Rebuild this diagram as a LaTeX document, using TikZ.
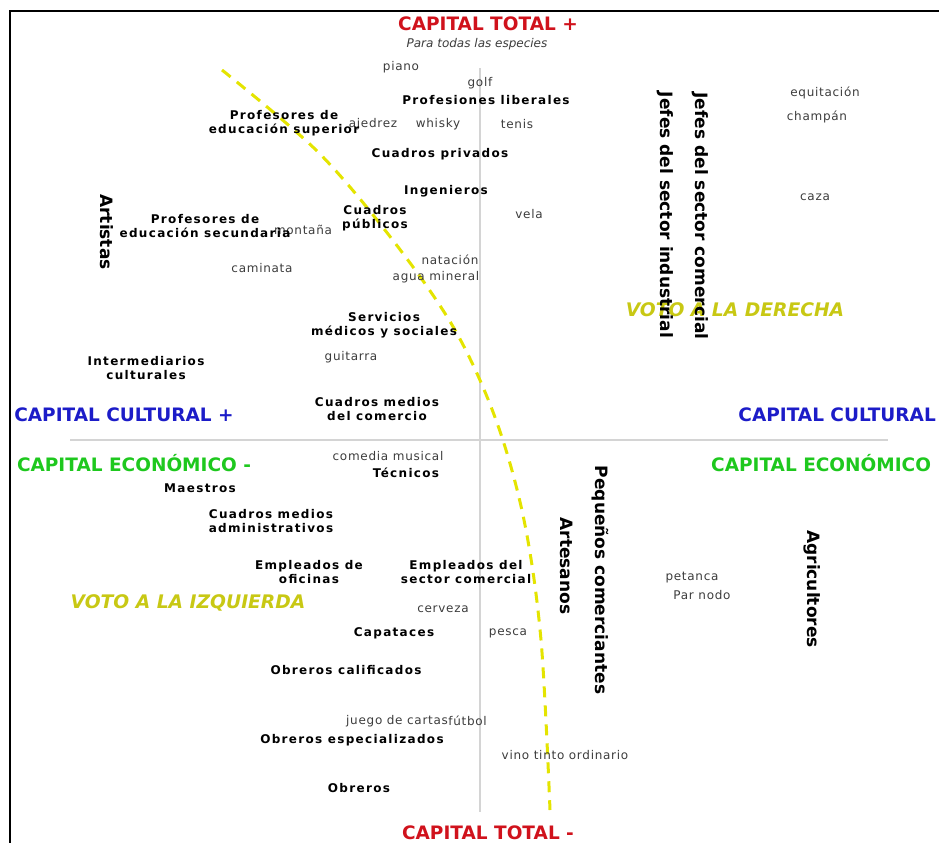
\documentclass[tikz,border=0pt]{standalone}
\usepackage{fontspec}
\setmainfont{DejaVu Sans}
\newfontfamily\espaciada[LetterSpace=6]{DejaVu Sans}
\newfontfamily\espaciadab[LetterSpace=11]{DejaVu Sans}
\usepackage{tikz}
\usetikzlibrary{positioning}
\definecolor{rojo}{RGB}{208,18,28}
\definecolor{azul}{RGB}{28,28,200}
\definecolor{verde}{RGB}{30,200,30}
\definecolor{amarillo}{RGB}{228,228,0}
\definecolor{oliva}{RGB}{200,200,20}
\definecolor{grisoscuro}{RGB}{60,60,60}
\definecolor{grisclaro}{RGB}{212,212,212}
\tikzset{grupo/.style={font=\espaciadab\bfseries\fontsize{12}{14}\selectfont,align=center,inner sep=0pt},
  practica/.style={font=\espaciada\fontsize{12}{13}\selectfont,text=grisoscuro,inner sep=0pt},
  vertical/.style={font=\bfseries\fontsize{17}{19}\selectfont,rotate=-90,inner sep=0pt},
  titulo/.style={font=\bfseries\fontsize{18.5}{20}\selectfont,inner sep=0pt},
  voto/.style={font=\bfseries\itshape\fontsize{18.7}{20}\selectfont,text=oliva,inner sep=0pt},
  eje/.style={draw=grisclaro,line width=2pt},
}

\begin{document}
\begin{tikzpicture}[x=1pt,y=-1pt]
\useasboundingbox (0,0) rectangle (939,843);
% marco
\draw[line width=1.5pt] (939,11) -- (10,11) -- (10,843);

% ejes
\coordinate (oeste) at (70,440);
\coordinate (este) at (888,440);
\coordinate (norte) at (480,68);
\coordinate (sur) at (480,812);
\path[eje] (oeste) -- (este) (norte) -- (sur);

% linea de voto
\draw[amarillo,line width=3pt,dash pattern=on 11pt off 8pt]
  plot[smooth,tension=0.55] coordinates {(222,70) (318,152) (395,243) (455,330) (496,420) (524,520) (541,640) (550,810)};

% titulos
\node[titulo,text=rojo] (ctmas) at (488,24) {CAPITAL TOTAL +};
\node[font=\itshape\fontsize{12}{13}\selectfont,text=grisoscuro,inner sep=0pt] (especies) at (477,44) {Para todas las especies};
\node[titulo,text=rojo] (ctmenos) at (488,833) {CAPITAL TOTAL -};
\node[titulo,text=azul] (ccmas) at (124,415) {CAPITAL CULTURAL +};
\node[titulo,text=azul,anchor=east] (ccmenos) at (936,415) {CAPITAL CULTURAL};
\node[titulo,text=verde] (cemenos) at (134,463) {CAPITAL ECONÓMICO -};
\node[titulo,text=verde,anchor=west] (cemas) at (711,463) {CAPITAL ECONÓMICO};
\node[voto] (derecha) at (735,310) {VOTO A LA DERECHA};
\node[voto] (izquierda) at (188,603) {VOTO A LA IZQUIERDA};

% practicas
\node[practica] (piano) at (401,67) {piano};
\node[practica] (golf) at (480,83) {golf};
\node[practica] (ajedrez) at (373,124) {ajedrez};
\node[practica] (whisky) at (438,124) {whisky};
\node[practica] (tenis) at (517,124) {tenis};
\node[practica] (equitacion) at (825,93) {equitación};
\node[practica] (champan) at (817,117) {champán};
\node[practica] (caza) at (815,197) {caza};
\node[practica] (vela) at (529,214) {vela};
\node[practica] (montana) at (303,230) {montaña};
\node[practica] (caminata) at (262,268) {caminata};
\node[practica] (natacion) at (450,260) {natación};
\node[practica] (agua) at (436,277) {agua mineral};
\node[practica] (guitarra) at (351,357) {guitarra};
\node[practica] (comedia) at (388,456) {comedia musical};
\node[practica] (cerveza) at (443,609) {cerveza};
\node[practica] (pesca) at (508,633) {pesca};
\node[practica] (petanca) at (692,578) {petanca};
\node[practica] (parnodo) at (702,595) {Par nodo};
\node[practica,anchor=west] (cartas) at (346,721) {juego de cartas};
\node[practica,anchor=west] (futbol) at (cartas.east) {fútbol};
\node[practica] (vino) at (565,755) {vino tinto ordinario};

% grupos
\node[grupo] (proflib) at (486,100) {Profesiones liberales};
\node[grupo] (profsup) at (284,123) {Profesores de\\educación superior};
\node[grupo] (cprivados) at (440,154) {Cuadros privados};
\node[grupo] (ingenieros) at (446,191) {Ingenieros};
\node[grupo] (cpublicos) at (375,218) {Cuadros\\públicos};
\node[grupo] (profsec) at (205,226) {Profesores de\\educación secundaria};
\node[grupo] (servicios) at (384,325) {Servicios\\médicos y sociales};
\node[grupo] (intermed) at (146,368) {Intermediarios\\culturales};
\node[grupo] (cmcomercio) at (377,409) {Cuadros medios\\del comercio};
\node[grupo] (tecnicos) at (406,473) {Técnicos};
\node[grupo] (maestros) at (200,488) {Maestros};
\node[grupo] (cmadmin) at (271,521) {Cuadros medios\\administrativos};
\node[grupo] (empoficinas) at (309,572) {Empleados de\\oficinas};
\node[grupo] (empcomercio) at (466,572) {Empleados del\\sector comercial};
\node[grupo] (capataces) at (394,633) {Capataces};
\node[grupo] (calificados) at (346,670) {Obreros calificados};
\node[grupo] (especializados) at (352,740) {Obreros especializados};
\node[grupo] (obreros) at (359,788) {Obreros};

% verticales
\node[vertical] (artistas) at (107,232) {Artistas};
\node[vertical] (jefesind) at (665,215) {Jefes del sector industrial};
\node[vertical] (jefescom) at (700,216) {Jefes del sector comercial};
\node[vertical] (artesanos) at (567,566) {Artesanos};
\node[vertical] (pequenos) at (600,580) {Pequeños comerciantes};
\node[vertical] (agricultores) at (812,589) {Agricultores};
\end{tikzpicture}
\end{document}
